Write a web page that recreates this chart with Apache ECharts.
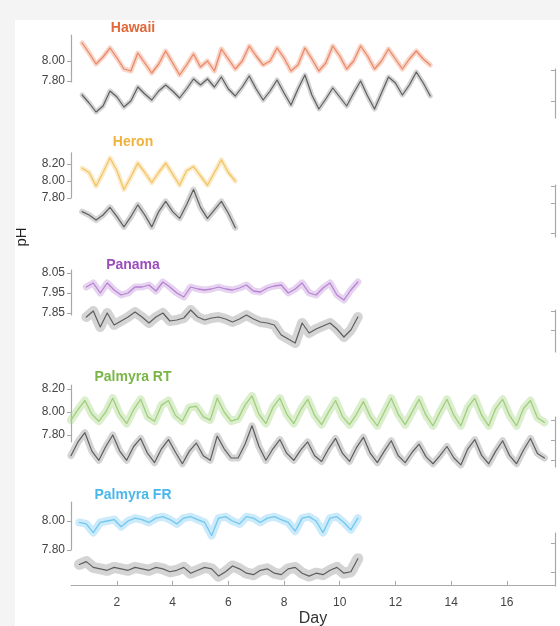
<!DOCTYPE html>
<html>
<head>
<meta charset="utf-8">
<script src="https://cdn.jsdelivr.net/npm/echarts@6/dist/echarts.min.js"></script>
<style>
  html, body { margin: 0; padding: 0; background: #f4f4f4; }
  #main { position: absolute; left: 15px; top: 20px; width: 545px; height: 606px; background: #fff; }
</style>
</head>
<body>
<div id="main"></div>
<script>
// day axis
const xTicks = [2, 4, 6, 8, 10, 12, 14, 16];
const dayStep = 0.25;

// Hawaii (starts day 0.75)
const hawaiiPH = [8.18, 8.08, 7.97, 8.04, 8.13, 8.03, 7.92, 7.90, 8.08, 7.98,
  7.88, 7.97, 8.10, 7.98, 7.86, 7.96, 8.07, 7.94, 8.00, 7.90,
  8.12, 8.02, 7.92, 8.00, 8.15, 8.05, 7.96, 8.00, 8.13, 8.03,
  7.90, 7.96, 8.13, 8.02, 7.90, 7.98, 8.15, 8.05, 7.92, 8.00,
  8.15, 8.05, 7.92, 8.00, 8.12, 8.02, 7.92, 8.02, 8.10, 8.02, 7.96];
const hawaiiGray = [7.66, 7.58, 7.49, 7.55, 7.70, 7.64, 7.54, 7.60, 7.74, 7.67,
  7.61, 7.70, 7.76, 7.70, 7.63, 7.72, 7.82, 7.76, 7.82, 7.74,
  7.84, 7.72, 7.65, 7.74, 7.85, 7.72, 7.61, 7.70, 7.81, 7.68,
  7.56, 7.72, 7.86, 7.66, 7.52, 7.62, 7.73, 7.64, 7.55, 7.68,
  7.80, 7.65, 7.52, 7.68, 7.84, 7.78, 7.66, 7.76, 7.89, 7.78, 7.65];
const hawaiiTicks = [7.8, 8.0];

// Heron (starts day 0.75)
const heronPH = [8.15, 8.10, 7.94, 8.10, 8.27, 8.12, 7.90, 8.05, 8.21, 8.10,
  7.98, 8.10, 8.21, 8.08, 7.95, 8.12, 8.17, 8.06, 7.95, 8.10,
  8.25, 8.10, 8.00];
const heronGray = [7.64, 7.60, 7.54, 7.60, 7.69, 7.58, 7.46, 7.58, 7.72, 7.60,
  7.46, 7.64, 7.76, 7.64, 7.56, 7.72, 7.90, 7.69, 7.56, 7.66,
  7.76, 7.62, 7.45];
const heronTicks = [7.8, 8.0, 8.2];

// Panama (starts day 0.9)
const panamaPH = [7.98, 8.00, 7.95, 8.00, 7.965, 7.94, 7.95, 7.98, 7.98, 7.99,
  7.96, 8.005, 7.98, 7.95, 7.93, 7.98, 7.97, 7.965, 7.97, 7.98,
  7.97, 7.965, 7.975, 7.99, 7.96, 7.955, 7.975, 7.985, 7.99, 7.95,
  7.97, 8.00, 7.95, 7.94, 7.975, 8.00, 7.94, 7.915, 7.965, 8.005];
const panamaGray = [7.83, 7.86, 7.78, 7.85, 7.79, 7.81, 7.83, 7.855, 7.83, 7.80,
  7.83, 7.85, 7.81, 7.815, 7.825, 7.865, 7.83, 7.815, 7.825, 7.83,
  7.82, 7.805, 7.82, 7.84, 7.82, 7.805, 7.80, 7.79, 7.74, 7.72,
  7.70, 7.80, 7.75, 7.77, 7.785, 7.80, 7.77, 7.73, 7.765, 7.83];
const panamaTicks = [7.85, 7.95, 8.05];

// Palmyra RT (starts day 0.35)
const rtPH = [7.93, 8.02, 8.10, 7.98, 7.92, 8.00, 8.12, 7.98, 7.90, 8.02,
  8.11, 7.96, 7.92, 8.06, 8.10, 7.97, 7.92, 8.04, 8.05, 7.96,
  7.93, 8.12, 8.00, 7.92, 7.94, 8.06, 8.14, 7.98, 7.90, 8.04,
  8.12, 7.98, 7.90, 8.02, 8.11, 7.97, 7.89, 8.00, 8.10, 7.96,
  7.89, 7.98, 8.09, 7.96, 7.88, 8.00, 8.12, 7.98, 7.89, 8.00,
  8.11, 7.97, 7.88, 8.00, 8.11, 7.97, 7.88, 8.04, 8.12, 7.97,
  7.88, 8.03, 8.11, 7.97, 7.88, 8.03, 8.10, 7.95, 7.91];
const rtGray = [7.62, 7.74, 7.82, 7.66, 7.58, 7.70, 7.80, 7.66, 7.58, 7.70,
  7.77, 7.64, 7.56, 7.68, 7.76, 7.65, 7.55, 7.66, 7.73, 7.62,
  7.58, 7.79, 7.68, 7.60, 7.60, 7.72, 7.88, 7.70, 7.58, 7.68,
  7.76, 7.64, 7.58, 7.67, 7.74, 7.62, 7.57, 7.68, 7.77, 7.64,
  7.57, 7.69, 7.78, 7.64, 7.56, 7.66, 7.75, 7.62, 7.56, 7.65,
  7.72, 7.61, 7.55, 7.62, 7.70, 7.60, 7.54, 7.68, 7.76, 7.62,
  7.55, 7.66, 7.75, 7.62, 7.55, 7.67, 7.77, 7.64, 7.60];
const rtTicks = [7.8, 8.0, 8.2];

// Palmyra FR (starts day 0.65)
const frPH = [7.99, 7.98, 7.92, 7.99, 8.00, 8.01, 7.96, 8.00, 8.02, 8.01,
  7.99, 8.02, 8.03, 8.01, 7.98, 8.02, 8.03, 8.01, 7.99, 7.90,
  8.02, 8.03, 8.00, 7.98, 8.03, 8.02, 7.99, 8.02, 8.03, 8.01,
  7.99, 7.93, 8.02, 8.03, 8.00, 7.92, 8.02, 8.03, 7.99, 7.94, 8.02];
const frGray = [7.70, 7.72, 7.68, 7.67, 7.66, 7.68, 7.67, 7.66, 7.68, 7.67,
  7.66, 7.68, 7.67, 7.65, 7.66, 7.68, 7.64, 7.66, 7.68, 7.67,
  7.62, 7.65, 7.69, 7.67, 7.64, 7.63, 7.66, 7.67, 7.64, 7.63,
  7.67, 7.68, 7.64, 7.62, 7.64, 7.63, 7.66, 7.68, 7.64, 7.65, 7.74];
const frTicks = [7.8, 8.0];

// layout (page pixels) and styles
const OX = 15, OY = 20;
const X_MIN = 0.35, X_MAX = 17.73;
const FONT = "'Liberation Sans', Arial, sans-serif";
const GRAY_LINE = '#5e5e5e', GRAY_BAND = 'rgba(120,120,120,0.32)';

const panels = [
  { name: 'Hawaii', title: '#e2683a', line: '#ea8a68', band: 'rgba(238,150,118,0.4)',
    x0: 0.75, ph: hawaiiPH, gray: hawaiiGray, ticks: hawaiiTicks,
    ref: 8.00, refY: 61, scale: 100, yMin: 7.40, yMax: 8.26, axMin: 7.79, titleY: 28,
    bandW: 5, grayBandW: 5, rightAx: [69, 118], rightTicks: [70, 101] },
  { name: 'Heron', title: '#f0b23a', line: '#f2c466', band: 'rgba(244,205,120,0.4)',
    x0: 0.75, ph: heronPH, gray: heronGray, ticks: heronTicks,
    ref: 8.00, refY: 181, scale: 85, yMin: 7.36, yMax: 8.33, axMin: 7.80, titleY: 142,
    bandW: 5, grayBandW: 6, rightAx: [185, 237], rightTicks: [186, 203, 233] },
  { name: 'Panama', title: '#9a4dbd', line: '#b783d2', band: 'rgba(196,150,220,0.42)',
    x0: 0.9, ph: panamaPH, gray: panamaGray, ticks: panamaTicks,
    ref: 7.95, refY: 293, scale: 200, yMin: 7.66, yMax: 8.065, axMin: 7.84, titleY: 265,
    bandW: 7, grayBandW: 10, rightAx: [310, 352], rightTicks: [311, 330] },
  { name: 'Palmyra RT', title: '#79b547', line: '#a2ce7e', band: 'rgba(170,215,135,0.42)',
    x0: 0.35, ph: rtPH, gray: rtGray, ticks: rtTicks,
    ref: 8.00, refY: 412, scale: 115, yMin: 7.42, yMax: 8.235, axMin: 7.74, titleY: 377,
    bandW: 8, grayBandW: 7, rightAx: [417, 467], rightTicks: [420, 440, 460] },
  { name: 'Palmyra FR', title: '#4ab7ea', line: '#72c8f0', band: 'rgba(130,205,242,0.42)',
    x0: 0.65, ph: frPH, gray: frGray, ticks: frTicks,
    ref: 8.00, refY: 521, scale: 145, yMin: 7.56, yMax: 8.13, axMin: 7.80, titleY: 495,
    bandW: 8, grayBandW: 11, rightAx: [533, 586], rightTicks: [543, 572] }
];

const grid = [], xAxis = [], yAxis = [], series = [], graphic = [];
const axisGray = '#a8a8a8';

panels.forEach((p, k) => {
  const top = p.refY - (p.yMax - p.ref) * p.scale - OY;
  const gi = grid.length;
  const last = k === panels.length - 1;

  // data grid
  grid.push({ left: 71 - OX, right: 5, top: top, height: (p.yMax - p.yMin) * p.scale,
    outerBoundsMode: 'none', containLabel: false });
  xAxis.push({
    gridIndex: gi, type: 'value', min: X_MIN, max: X_MAX, show: last,
    splitLine: { show: false },
    axisLine: { onZero: false, lineStyle: { color: axisGray, width: 1.2 } },
    axisTick: { inside: true, length: 4, customValues: xTicks, lineStyle: { color: axisGray } },
    axisLabel: { customValues: xTicks, color: '#444', fontSize: 12, margin: 12, fontFamily: FONT },
    name: last ? 'Day' : '', nameLocation: 'middle', nameGap: 26,
    nameTextStyle: { color: '#333', fontSize: 16, fontFamily: FONT }
  });
  yAxis.push({ gridIndex: gi, type: 'value', min: p.yMin, max: p.yMax, show: false });

  // left axis (partial span)
  grid.push({ left: 71 - OX, width: 10, top: top, height: (p.yMax - p.axMin) * p.scale,
    outerBoundsMode: 'none', containLabel: false });
  xAxis.push({ gridIndex: gi + 1, type: 'value', min: 0, max: 1, show: false });
  yAxis.push({
    gridIndex: gi + 1, type: 'value', min: p.axMin, max: p.yMax, position: 'left',
    splitLine: { show: false },
    axisLine: { show: true, onZero: false, lineStyle: { color: axisGray, width: 1.2 } },
    axisTick: { show: true, length: 4, customValues: p.ticks, lineStyle: { color: axisGray } },
    axisLabel: { customValues: p.ticks, formatter: v => v.toFixed(2), color: '#444',
      fontSize: 12, margin: 6, fontFamily: FONT }
  });

  // right axis (no labels)
  const rh = p.rightAx[1] - p.rightAx[0];
  grid.push({ left: 555 - OX - 10, width: 10, top: p.rightAx[0] - OY, height: rh,
    outerBoundsMode: 'none', containLabel: false });
  xAxis.push({ gridIndex: gi + 2, type: 'value', min: 0, max: 1, show: false });
  yAxis.push({
    gridIndex: gi + 2, type: 'value', min: 0, max: rh, position: 'right',
    splitLine: { show: false },
    axisLine: { show: true, onZero: false, lineStyle: { color: axisGray, width: 1.2 } },
    axisTick: { show: true, inside: true, length: 4,
      customValues: p.rightTicks.map(t => p.rightAx[1] - t), lineStyle: { color: axisGray } },
    axisLabel: { show: false }
  });

  const pts = arr => arr.map((v, i) => [p.x0 + i * dayStep, v]);
  const mk = (data, color, width, z) => ({
    type: 'line', xAxisIndex: gi, yAxisIndex: gi, data: data, symbol: 'none',
    silent: true, z: z,
    lineStyle: { color: color, width: width, join: 'round', cap: 'round' }
  });
  series.push(mk(pts(p.gray), GRAY_BAND, p.grayBandW, 2));
  series.push(mk(pts(p.gray), GRAY_LINE, 1.2, 3));
  series.push(mk(pts(p.ph), p.band, p.bandW, 2));
  series.push(mk(pts(p.ph), p.line, 1.3, 3));

  graphic.push({
    type: 'text', x: 133 - OX, y: p.titleY - OY,
    style: { text: p.name, fill: p.title, font: 'bold 14px ' + FONT,
      textAlign: 'center', textVerticalAlign: 'middle', align: 'center', verticalAlign: 'middle' }
  });
});

graphic.push({
  type: 'text', x: 22 - OX, y: 237 - OY, rotation: Math.PI / 2,
  style: { text: 'pH', fill: '#222', font: '15px ' + FONT,
    textAlign: 'center', textVerticalAlign: 'middle', align: 'center', verticalAlign: 'middle' }
});

const chart = echarts.init(document.getElementById('main'));
chart.setOption({
  animation: false,
  textStyle: { fontFamily: FONT },
  grid: grid,
  xAxis: xAxis,
  yAxis: yAxis,
  series: series,
  graphic: graphic
});
</script>
</body>
</html>
